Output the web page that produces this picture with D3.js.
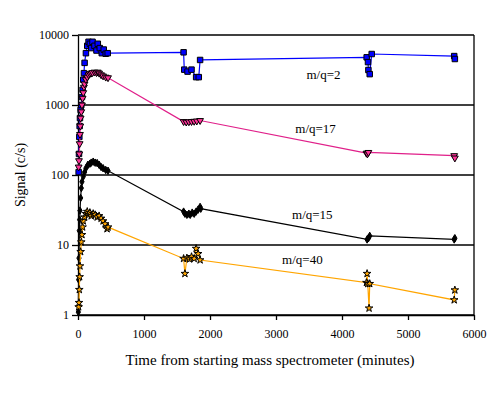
<!DOCTYPE html>
<html>
<head>
<meta charset="utf-8">
<script src="https://cdn.jsdelivr.net/npm/d3@7"></script>
<style>
  body { margin: 0; background: #fff; }
  svg text { font-family: "Liberation Serif", "Times New Roman", serif; }
</style>
</head>
<body>
<div id="chart"></div>
<script>
// m/q = 2 (blue squares)
const mq2 = [
  [10, 110], [15, 200], [20, 350], [25, 500], [30, 650], [40, 850], [50, 1000], [60, 1300],
  [70, 1650], [80, 2300], [90, 2850], [100, 4000], [120, 5500], [140, 7000], [160, 8000],
  [180, 7500], [200, 6500], [220, 8000], [250, 7000], [280, 6000], [300, 7500], [330, 6500],
  [360, 5500], [390, 6200], [420, 5400], [450, 5500],
  [1600, 5660], [1610, 3200], [1660, 3000], [1720, 3200], [1790, 2500], [1830, 2500],
  [1850, 4400], [4374, 4800], [4394, 4100], [4400, 3160], [4420, 2760], [4450, 5350],
  [5700, 5000], [5710, 4540]
];
// m/q = 17 (pink triangles)
const mq17 = [
  [10, 130], [15, 160], [20, 200], [25, 280], [30, 380], [35, 500], [40, 650], [50, 800],
  [60, 1000], [70, 1250], [80, 1500], [90, 1800], [100, 2000], [120, 2300], [140, 2500],
  [160, 2700], [180, 2800], [200, 2850], [220, 2900], [250, 2950], [280, 2900], [300, 2950],
  [320, 2850], [350, 2700], [380, 2600], [420, 2500], [455, 2450],
  [1600, 580], [1640, 570], [1680, 575], [1720, 580], [1760, 585], [1800, 590], [1850, 600],
  [4370, 205], [4385, 200], [4400, 210], [5700, 189], [5710, 175]
];
// m/q = 15 (black diamonds)
const mq15 = [
  [5, 1.1], [10, 3.2], [15, 6.5], [20, 16], [25, 23], [30, 31], [40, 47], [50, 65], [60, 80],
  [80, 95], [100, 110], [120, 125], [150, 140], [180, 145], [200, 150], [230, 155], [260, 150],
  [290, 148], [320, 140], [350, 130], [380, 125], [420, 118], [455, 115],
  [1600, 30], [1620, 28], [1650, 27], [1680, 28], [1700, 27], [1730, 29], [1760, 28],
  [1790, 30], [1820, 32], [1850, 35], [1860, 33],
  [4380, 12], [4400, 12.5], [4420, 13.5], [5700, 12], [5710, 12.5]
];
// m/q = 40 (orange stars)
const mq40 = [
  [10, 1.3], [15, 1.5], [20, 2.3], [25, 3.5], [30, 5], [40, 8], [50, 11], [60, 14], [70, 18],
  [80, 22], [100, 25], [120, 28], [140, 30], [160, 27], [180, 29], [200, 26], [230, 28],
  [260, 27], [290, 25], [320, 26], [350, 24], [380, 22], [410, 20], [440, 17], [455, 18],
  [1600, 6.4], [1620, 3.9], [1650, 6.5], [1690, 6.3], [1720, 6.8], [1760, 6.4], [1790, 8.9],
  [1820, 7.5], [1850, 6.1],
  [4370, 2.9], [4380, 3.9], [4390, 2.8], [4410, 1.25], [4420, 2.8], [5700, 1.64], [5710, 2.27]
];

const xTicks = [0, 1000, 2000, 3000, 4000, 5000, 6000];
const yTicks = [1, 10, 100, 1000, 10000];

const series = [
  { name: "m/q=2", data: mq2, line: "#0000ff", fill: "#0000ff", symbol: d3.symbolSquare, size: 30, rot: 0, lab: [3720, 2700] },
  { name: "m/q=17", data: mq17, line: "#e0208a", fill: "#ff3399", symbol: d3.symbolTriangle, size: 20, rot: 180, lab: [3600, 470] },
  { name: "m/q=15", data: mq15, line: "#000000", fill: "#000000", symbol: d3.symbolDiamond, size: 16, rot: 0, lab: [3550, 27] },
  { name: "m/q=40", data: mq40, line: "#ffa500", fill: "#ffa500", symbol: d3.symbolStar, size: 18, rot: 0, lab: [3400, 6.3] }
];

const width = 496, height = 393;
const plotL = 78, plotR = 474, plotT = 35, plotB = 315;

const svg = d3.select("#chart").append("svg")
  .attr("width", width)
  .attr("height", height);

const x = d3.scaleLinear().domain([0, 6000]).range([plotL, plotR]);
const y = d3.scaleLog().domain([1, 10000]).range([plotB, plotT]);

// grid lines at each decade
svg.append("g").selectAll("line")
  .data(yTicks)
  .join("line")
  .attr("x1", plotL).attr("x2", plotR)
  .attr("y1", d => y(d)).attr("y2", d => y(d))
  .attr("stroke", "#000").attr("stroke-width", 1.3);

// right border
svg.append("line")
  .attr("x1", plotR).attr("x2", plotR).attr("y1", plotT).attr("y2", plotB)
  .attr("stroke", "#000").attr("stroke-width", 1.3);

svg.append("g")
  .attr("transform", `translate(0,${plotB})`)
  .call(d3.axisBottom(x).tickValues(xTicks).tickFormat(d3.format("d")).tickSize(5).tickSizeOuter(0).tickPadding(9))
  .attr("font-family", null)
  .call(g => g.selectAll("text").attr("font-size", 12).attr("fill", "#000"))
  .call(g => g.selectAll("line,path").attr("stroke", "#000").attr("stroke-width", 1.3));

svg.append("g")
  .attr("transform", `translate(${plotL},0)`)
  .call(d3.axisLeft(y).tickValues(yTicks).tickFormat(d3.format("d")).tickSize(6).tickSizeOuter(0).tickPadding(3))
  .attr("font-family", null)
  .call(g => g.selectAll("text").attr("font-size", 12).attr("fill", "#000"))
  .call(g => g.selectAll("line,path").attr("stroke", "#000").attr("stroke-width", 1.3));

const line = d3.line().x(d => x(d[0])).y(d => y(d[1]));

series.forEach(s => {
  svg.append("path")
    .datum(s.data)
    .attr("d", line)
    .attr("fill", "none")
    .attr("stroke", s.line)
    .attr("stroke-width", 1.2);

  svg.append("g").selectAll("path")
    .data(s.data)
    .join("path")
    .attr("d", d3.symbol().type(s.symbol).size(s.size))
    .attr("transform", d => `translate(${x(d[0])},${y(d[1])}) rotate(${s.rot})`)
    .attr("fill", s.fill)
    .attr("stroke", "#000")
    .attr("stroke-width", 1);

  svg.append("text")
    .attr("x", x(s.lab[0]))
    .attr("y", y(s.lab[1]))
    .attr("text-anchor", "middle")
    .attr("dy", "0.35em")
    .attr("font-size", 13)
    .text(s.name);
});

svg.append("text")
  .attr("x", 270)
  .attr("y", 360)
  .attr("dy", "0.35em")
  .attr("text-anchor", "middle")
  .attr("font-size", 15)
  .text("Time from starting mass spectrometer (minutes)");

svg.append("text")
  .attr("transform", `translate(20,${(plotT + plotB) / 2}) rotate(-90)`)
  .attr("text-anchor", "middle")
  .attr("dy", "0.35em")
  .attr("font-size", 14)
  .text("Signal (c/s)");
</script>
</body>
</html>
